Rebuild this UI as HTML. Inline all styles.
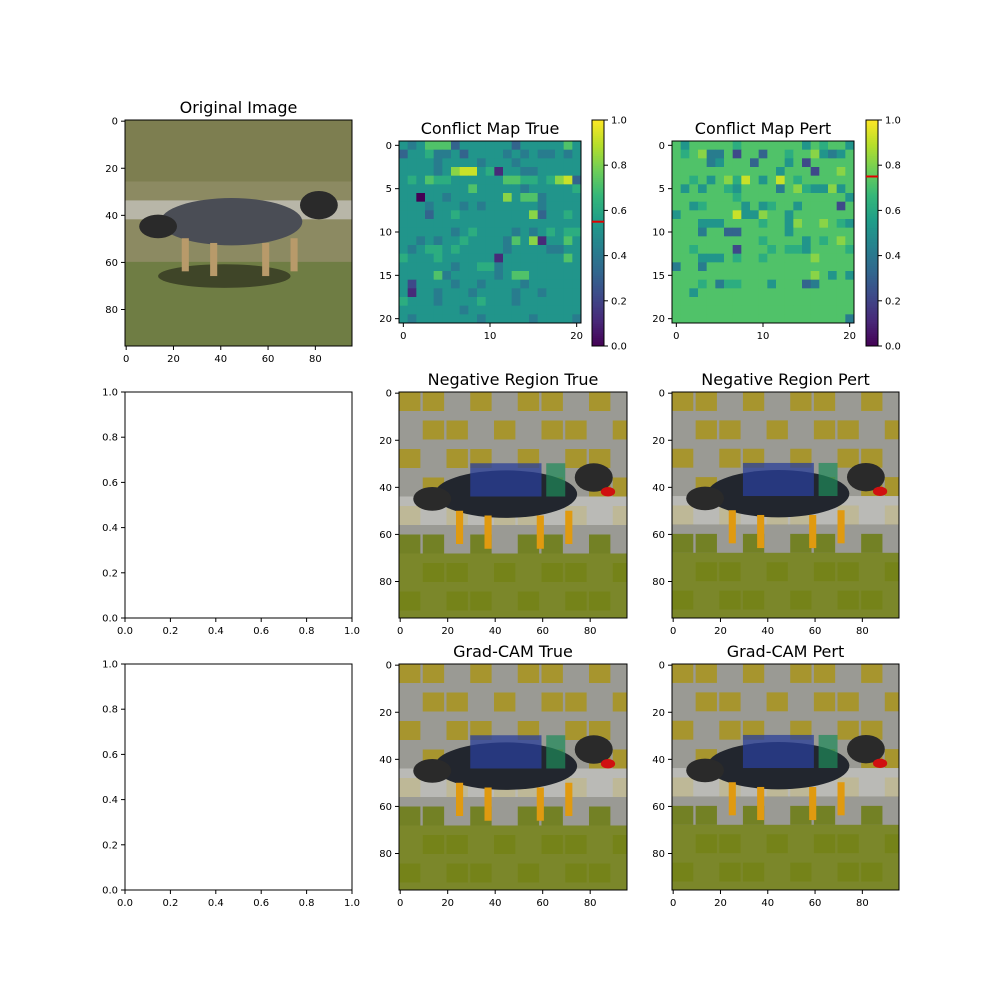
<!DOCTYPE html>
<html><head><meta charset="utf-8"><style>
body{margin:0;background:#fff;font-family:"Liberation Sans","DejaVu Sans",sans-serif}
svg text{font-family:"DejaVu Sans","Liberation Sans",sans-serif}
</style></head><body>
<svg id="fig" width="1000" height="1000" xmlns="http://www.w3.org/2000/svg"></svg>
<script>
const trueMap=["545777355555535555575","355644535555454544545","555545555455545555555","555545899561554455555","565766555555776656893","555555557555554555556","550554555555857745555","555455545455555545555","555355655555555835565","555555555555555555555","555555456555545456566","554545565555475815575","545665655555455554455","655565555551555555575","555555455664555555555","555574555554577555555","525555455455554555555","515545554555545545555","655545555655545555555","555555545555555555555","545555555455555455554"];
const pertMap=["757777767777777576775","767844727737767785457","777745777377757277777","777777777777577727787","776757869757976777777","757577657777478655857","777777767777777777775","775677775756775777727","577777795587757777777","777555777767758778765","777477337777757777777","777777777767777576787","776777727776766577776","777555767767777787777","477477777777777777777","777777777777777787575","777674667775777347777","775777777777777777777","777777777777777777777","777777777777777777777","777777777777777777774"];
const cbTicks=["0.0","0.2","0.4","0.6","0.8","1.0"];
const imgTicks=[0,20,40,60,80];
const unitTicks=["0.0","0.2","0.4","0.6","0.8","1.0"];
const mapTicksX=[0,10,20];
const mapTicksY=[0,5,10,15,20];
const cbMarks=[0.55,0.75];

const NS="http://www.w3.org/2000/svg";
const svg=document.getElementById('fig');
function el(t,a,p){const e=document.createElementNS(NS,t);for(const k in a)e.setAttribute(k,a[k]);(p||svg).appendChild(e);return e;}
function txt(s,x,y,a,p){const t=el('text',Object.assign({x:x,y:y,'font-size':10,fill:'#000'},a),p);t.textContent=s;return t;}
const vir=[[68,1,84],[72,40,120],[62,74,137],[49,104,142],[38,130,142],[31,158,137],[53,183,121],[110,206,88],[181,222,43],[253,231,37]];
function viridis(v){v=Math.max(0,Math.min(1,v))*9;const i=Math.min(8,Math.floor(v)),f=v-i;const a=vir[i],b=vir[i+1];return `rgb(${a.map((c,k)=>Math.round(c+(b[k]-c)*f)).join(',')})`;}
function level(ch){const n=+ch;return n===0?0:n/10+0.02;}

function axesFrame(g,x,y,w,h,name){const r=el('rect',{x:x,y:y,width:w,height:h,fill:'none',stroke:'#000','stroke-width':1},g);}
function xtick(g,px,y,label){el('line',{x1:px,y1:y,x2:px,y2:y+4,stroke:'#000'},g);txt(label,px,y+16,{'text-anchor':'middle'},g);}
function ytick(g,x,py,label){el('line',{x1:x-4,y1:py,x2:x,y2:py,stroke:'#000'},g);txt(label,x-7,py+3.5,{'text-anchor':'end'},g);}
function title(g,s,cx,y){const t=txt(s,cx,y,{'text-anchor':'middle','font-size':16},g);}

function imgAxes(name,x,y,w,h,ttl,kind){
  const g=el('g',{});
  const sx=v=>x+(v+0.5)*w/96, sy=v=>y+(v+0.5)*h/96;
  const cp=el('clipPath',{id:'c'+name},g);el('rect',{x:x,y:y,width:w,height:h},cp);
  const im=el('g',{'clip-path':`url(#c${name})`},g);
  const U=w/96;
  if(kind==='orig'){
    el('rect',{x:x,y:y,width:w,height:h,fill:'#8c8a62'},im);
    el('rect',{x:x,y:y,width:w,height:26*U,fill:'#7d7e50'},im);
    el('rect',{x:x,y:y+34*U,width:w,height:8*U,fill:'#b8b6a8'},im);
    el('rect',{x:x,y:y+60*U,width:w,height:36*U,fill:'#6f7d44'},im);
    el('ellipse',{cx:x+42*U,cy:y+66*U,rx:28*U,ry:5*U,fill:'#3f4528'},im);
  }else{
    el('rect',{x:x,y:y,width:w,height:h,fill:'#9a9a94'},im);
    for(let r=0;r<8;r++)for(let c=0;c<10;c++){ if((r*3+c*7)%5<3){el('rect',{x:x+c*10*U,y:y+r*12*U,width:9*U,height:8*U,fill:r>4?'#6f7e18':'#a89522',opacity:0.9},im);} }
    el('rect',{x:x,y:y+68*U,width:w,height:28*U,fill:'#768418',opacity:0.85},im);
    el('rect',{x:x,y:y+44*U,width:w,height:12*U,fill:'#c8c8c4',opacity:0.7},im);
  }
  el('ellipse',{cx:x+45*U,cy:y+43*U,rx:30*U,ry:10*U,fill:kind==='orig'?'#4a4d55':'#22262e'},im);
  el('ellipse',{cx:x+14*U,cy:y+45*U,rx:8*U,ry:5*U,fill:'#2a2a2a'},im);
  el('ellipse',{cx:x+82*U,cy:y+36*U,rx:8*U,ry:6*U,fill:'#2a2a2a'},im);
  [[24,50],[36,52],[58,52],[70,50]].forEach(p=>el('rect',{x:x+p[0]*U,y:y+p[1]*U,width:3*U,height:14*U,fill:kind==='orig'?'#b89a6a':'#e09a10'},im));
  if(kind!=='orig'){
    el('rect',{x:x+30*U,y:y+30*U,width:30*U,height:14*U,fill:'#2a3f9a',opacity:0.75},im);
    el('rect',{x:x+62*U,y:y+30*U,width:8*U,height:14*U,fill:'#1e8a5a',opacity:0.7},im);
    el('ellipse',{cx:x+88*U,cy:y+42*U,rx:3*U,ry:2*U,fill:'#d01010'},im);
  }
  axesFrame(g,x,y,w,h,name);
  imgTicks.forEach(v=>{xtick(g,sx(v),y+h,String(v));ytick(g,x,sy(v),String(v));});
  if(ttl)title(g,ttl,x+w/2,y-7);
}

function mapAxes(name,x,y,s,data,ttl,cbx,mark){
  const g=el('g',{});
  const c=s/21;
  data.forEach((row,r)=>row.split('').forEach((ch,k)=>{
    const cell=el('rect',{x:x+k*c,y:y+r*c,width:c+0.4,height:c+0.4,fill:viridis(level(ch))},g);
    
    
  }));
  axesFrame(g,x,y,s,s,name);
  mapTicksX.forEach(v=>xtick(g,x+(v+0.5)*c,y+s,String(v)));
  mapTicksY.forEach(v=>ytick(g,x,y+(v+0.5)*c,String(v)));
  title(g,ttl,x+s/2,y-7);
  const cb=el('g',{},g);
  const cy0=120,ch=226;
  for(let i=0;i<113;i++)el('rect',{x:cbx,y:cy0+ch-(i+1)*2,width:12,height:2.3,fill:viridis((i+0.5)/113)},cb);
  el('rect',{x:cbx,y:cy0,width:12,height:ch,fill:'none',stroke:'#000'},cb);
  cbTicks.forEach((t,i)=>{const py=cy0+ch-ch*i/5;el('line',{x1:cbx+12,y1:py,x2:cbx+16,y2:py,stroke:'#000'},cb);txt(t,cbx+19,py+3.5,{},cb);});
  const m=el('line',{x1:cbx,x2:cbx+12,y1:cy0+ch-ch*mark,y2:cy0+ch-ch*mark,stroke:'#e00000','stroke-width':2},cb);
  
}

function emptyAxes(name,x,y,w,h){
  const g=el('g',{});
  el('rect',{x:x,y:y,width:w,height:h,fill:'#fff'},g);
  axesFrame(g,x,y,w,h,name);
  unitTicks.forEach((t,i)=>{xtick(g,x+w*i/5,y+h,t);ytick(g,x,y+h-h*i/5,t);});
}

imgAxes('original-image',125,120,227,226,'Original Image','orig');
mapAxes('conflict-map-true',399,141,182,trueMap,'Conflict Map True',592,cbMarks[0]);
mapAxes('conflict-map-pert',672,141,182,pertMap,'Conflict Map Pert',866,cbMarks[1]);
emptyAxes('empty-axes-row2',125,392,227,226);
imgAxes('negative-region-true',399,392,228,226,'Negative Region True','ov');
imgAxes('negative-region-pert',672,392,227,226,'Negative Region Pert','ov');
emptyAxes('empty-axes-row3',125,664,227,226);
imgAxes('gradcam-true',399,664,228,226,'Grad-CAM True','ov');
imgAxes('gradcam-pert',672,664,227,226,'Grad-CAM Pert','ov');
</script>
</body></html>
